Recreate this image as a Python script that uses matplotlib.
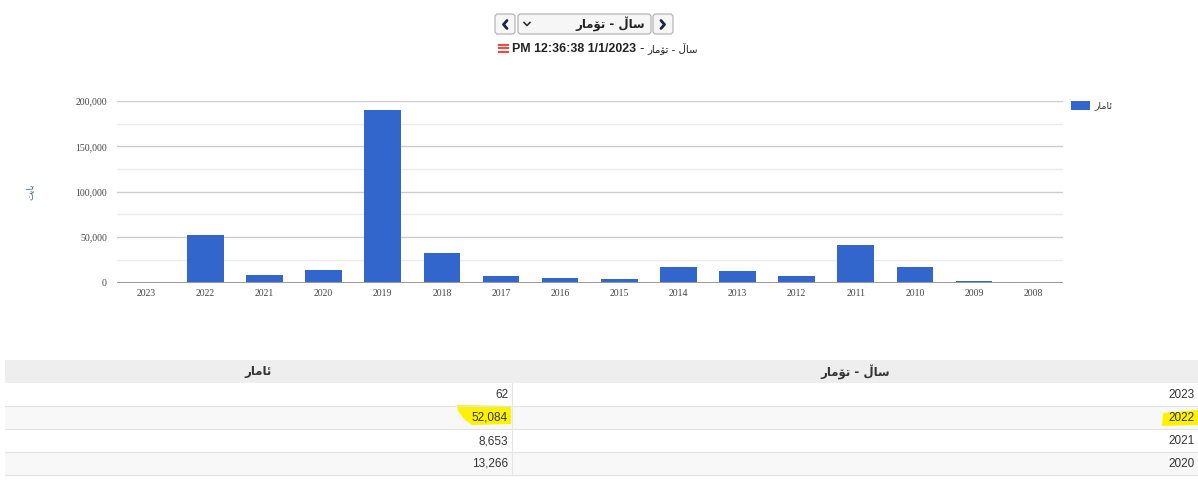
import matplotlib
matplotlib.use('Agg')
import matplotlib.pyplot as plt
from matplotlib.patches import FancyBboxPatch, Rectangle, Polygon
from matplotlib.lines import Line2D

# ---------------- data ----------------
years = ['2023', '2022', '2021', '2020', '2019', '2018', '2017', '2016',
         '2015', '2014', '2013', '2012', '2011', '2010', '2009', '2008']
values = [62, 52084, 8653, 13266, 190400, 32000, 7700, 5100,
          3700, 17600, 12500, 7700, 41500, 16900, 1800, 700]
y_ticks = [0, 50000, 100000, 150000, 200000]
y_minor = [25000, 75000, 125000, 175000]
series_name = 'ئامار'
axis_title = 'بایت'
dim_title = 'ساڵ - تۆمار'
timestamp = 'PM 12:36:38 1/1/2023'
table_years = years[:4]
table_values = values[:4]

# ---------------- simple Arabic-script shaping ----------------
FORMS = {  # isolated, final, initial, medial
    '\u0626': ('\uFE89', '\uFE8A', '\uFE8B', '\uFE8C'),
    '\u0627': ('\uFE8D', '\uFE8E', None, None),
    '\u0645': ('\uFEE1', '\uFEE2', '\uFEE3', '\uFEE4'),
    '\u0631': ('\uFEAD', '\uFEAE', None, None),
    '\u0628': ('\uFE8F', '\uFE90', '\uFE91', '\uFE92'),
    '\u06CC': ('\uFBFC', '\uFBFD', '\uFBFE', '\uFBFF'),
    '\u062A': ('\uFE95', '\uFE96', '\uFE97', '\uFE98'),
    '\u0633': ('\uFEB1', '\uFEB2', '\uFEB3', '\uFEB4'),
    '\u06C6': ('\uFBD9', '\uFBDA', None, None),
    '\u06B5': ('\u06B5', '\u06B5', '\u06B5', '\u06B5'),
}


def dual(c):
    return c in FORMS and FORMS[c][2] is not None


def joining(c):
    return c in FORMS


def shape(s):
    out = []
    for i, c in enumerate(s):
        if c not in FORMS:
            out.append(c)
            continue
        prev = s[i - 1] if i > 0 else ''
        nxt = s[i + 1] if i + 1 < len(s) else ''
        jp = dual(prev)
        jn = dual(c) and joining(nxt)
        iso, fin, ini, med = FORMS[c]
        if jp and jn:
            out.append(med)
        elif jp:
            out.append(fin)
        elif jn:
            out.append(ini)
        else:
            out.append(iso)
    return ''.join(out)[::-1]


AR = ['DejaVu Sans']
W, H = 1198, 482

fig = plt.figure(figsize=(W / 100, H / 100), dpi=100)
bg = fig.add_axes([0, 0, 1, 1])
bg.set_xlim(0, W)
bg.set_ylim(H, 0)
bg.axis('off')

# ---------------- top controls ----------------
def button(x, y, w, h):
    bg.add_patch(FancyBboxPatch((x, y), w, h, boxstyle='round,pad=0,rounding_size=3',
                                fc='#f6f6f6', ec='#b5b5b5', lw=0.9))

button(495, 14, 20, 20)
bg.add_line(Line2D([507, 503.5, 507], [20.5, 24.5, 28.5], color='#1c2340', lw=2.0,
                   solid_capstyle='round', solid_joinstyle='round'))
button(518, 14, 133, 20)
bg.text(645, 24, shape(dim_title), ha='right', va='center', fontsize=8.5,
        color='#222222', family=AR, weight='bold')
bg.add_line(Line2D([524, 527, 530], [22.5, 25.5, 22.5], color='#333333', lw=1.2))
button(653, 14, 20, 20)
bg.add_line(Line2D([661, 664.5, 661], [20.5, 24.5, 28.5], color='#1c2340', lw=2.0,
                   solid_capstyle='round', solid_joinstyle='round'))

# title line
for yy in (44.5, 48, 51.5):
    bg.add_line(Line2D([499, 508], [yy, yy], color='#d9534f', lw=1.6))
bg.text(512, 48.5, timestamp, ha='left', va='center', fontsize=8.9,
        weight='bold', color='#222222', family=['Liberation Sans'])
bg.text(641.5, 48.5, '-', ha='center', va='center', fontsize=8.5,
        color='#222222', family=AR)
bg.text(698, 48.5, shape(dim_title), ha='right', va='center', fontsize=7.3,
        color='#222222', family=AR)

# ---------------- chart ----------------
left, right, top, bottom = 116.7, 1062.7, 101.0, 282.5
ax = fig.add_axes([left / W, 1 - bottom / H, (right - left) / W, (bottom - top) / H])
ax.set_facecolor('none')
x = list(range(len(years)))
ax.bar(x, values, width=0.62, color='#3366cc', zorder=3)
ax.set_xlim(-0.5, len(years) - 0.5)
ax.set_ylim(0, 200000)
ax.set_yticks(y_ticks)
ax.set_yticks(y_minor, minor=True)
ax.set_yticklabels([f'{v:,}' for v in y_ticks])
ax.set_xticks(x)
ax.set_xticklabels(years)
ax.grid(axis='y', which='major', color='#cccccc', lw=1.0, zorder=0)
ax.grid(axis='y', which='minor', color='#ebebeb', lw=1.0, zorder=0)
ax.axhline(0, color='#9a9a9a', lw=1.4, zorder=4)
for s in ax.spines.values():
    s.set_visible(False)
ax.tick_params(axis='both', which='both', length=0)
ax.tick_params(axis='y', pad=7)
ax.tick_params(axis='x', pad=5)
for lab in ax.get_xticklabels() + ax.get_yticklabels():
    lab.set_family('Liberation Serif')
    lab.set_fontsize(7)
    lab.set_color('#444444')

# y axis title
bg.text(30, 192, shape(axis_title), rotation=90, ha='center', va='center',
        fontsize=6.5, color='#4d6f8f', family=AR)

# legend
bg.add_patch(Rectangle((1071, 101), 19, 9, fc='#3366cc', ec='none'))
bg.text(1094, 105.5, shape(series_name), ha='left', va='center', fontsize=6.8,
        color='#333333', family=AR)

# ---------------- table ----------------
tx0, tx1, tmid = 5, 1198, 512
bg.add_patch(Rectangle((tx0, 360), tx1 - tx0, 23, fc='#eeeeee', ec='none'))
bg.text(258, 371.5, shape(series_name), ha='center', va='center', fontsize=8.5,
        weight='bold', color='#333333', family=AR)
bg.text(855, 371.5, shape(dim_title), ha='center', va='center', fontsize=8.5,
        weight='bold', color='#333333', family=AR)

row_h = 23
y0 = 383
for i, (yr, v) in enumerate(zip(table_years, table_values)):
    ry = y0 + i * row_h
    if i % 2 == 1:
        bg.add_patch(Rectangle((tx0, ry), tx1 - tx0, row_h, fc='#f8f8f8', ec='none'))
    bg.add_line(Line2D([tx0, tx1], [ry + row_h, ry + row_h], color='#e3e3e3', lw=0.8))
    bg.add_line(Line2D([tmid, tmid], [ry, ry + row_h], color='#e6e6e6', lw=0.8))
    if yr == '2022':
        bg.add_patch(Polygon([(457, 405), (511, 406), (511, 424), (472, 425),
                              (464, 419), (458, 411)],
                             closed=True, fc='#fff200', ec='none', zorder=1))
        bg.add_patch(Polygon([(1163, 413), (1198, 410), (1198, 425), (1162, 426)],
                             closed=True, fc='#fff200', ec='none', zorder=1))
    bg.text(508, ry + row_h / 2 + 0.5, f'{v:,}', ha='right', va='center', fontsize=8.5,
            color='#333333', family=['Liberation Sans'], zorder=2)
    bg.text(1195, ry + row_h / 2 + 0.5, yr, ha='right', va='center', fontsize=8.5,
            color='#333333', family=['Liberation Sans'], zorder=2)

fig.savefig('out.png', dpi=100)
